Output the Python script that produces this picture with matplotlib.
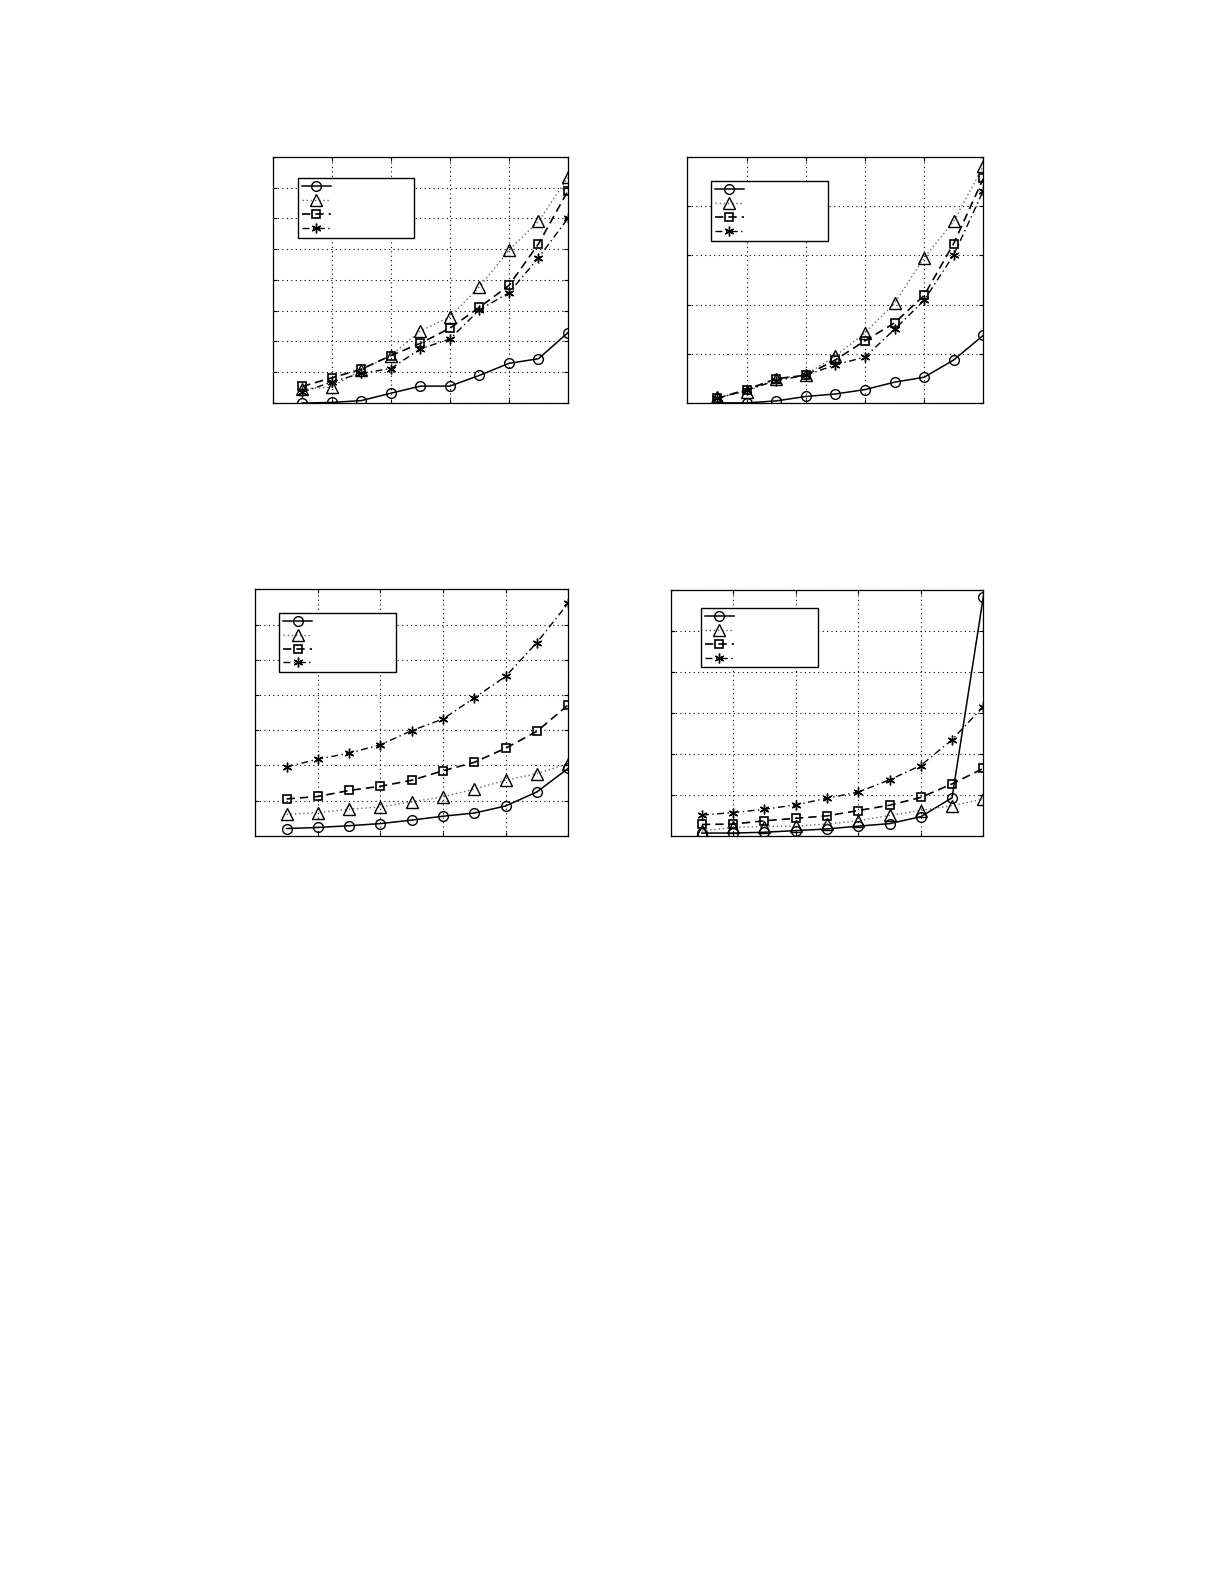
import matplotlib
matplotlib.use("Agg")
import matplotlib.pyplot as plt

# ---- data (arbitrary units) ----
x = [1, 2, 3, 4, 5, 6, 7, 8, 9, 10]

# panel 1 (top left), y range 0..8
p1_circle = [0.0, 0.02, 0.08, 0.32, 0.55, 0.55, 0.90, 1.29, 1.44, 2.29]
p1_triangle = [0.46, 0.52, 1.08, 1.54, 2.34, 2.80, 3.77, 4.97, 5.90, 7.33]
p1_square = [0.54, 0.82, 1.10, 1.54, 1.94, 2.43, 3.11, 3.82, 5.17, 6.90]
p1_star = [0.36, 0.68, 0.97, 1.12, 1.76, 2.08, 3.03, 3.58, 4.72, 6.00]

# panel 2 (top right), y range 0..5
p2_circle = [0.01, 0.01, 0.05, 0.14, 0.19, 0.28, 0.43, 0.53, 0.88, 1.38]
p2_triangle = [0.12, 0.24, 0.50, 0.58, 0.96, 1.43, 2.03, 2.95, 3.69, 4.81]
p2_square = [0.10, 0.28, 0.50, 0.57, 0.88, 1.27, 1.63, 2.19, 3.24, 4.56]
p2_star = [0.10, 0.27, 0.46, 0.57, 0.78, 0.94, 1.50, 2.09, 3.01, 4.31]

# panel 3 (bottom left), y range 0..7
p3_circle = [0.21, 0.24, 0.29, 0.35, 0.45, 0.56, 0.65, 0.85, 1.25, 1.92]
p3_triangle = [0.61, 0.66, 0.76, 0.82, 0.97, 1.11, 1.33, 1.58, 1.77, 2.05]
p3_square = [1.05, 1.12, 1.29, 1.41, 1.58, 1.85, 2.09, 2.49, 2.97, 3.72]
p3_star = [1.96, 2.18, 2.35, 2.59, 2.99, 3.32, 3.92, 4.53, 5.49, 6.61]

# panel 4 (bottom right), y range 0..6
p4_circle = [0.07, 0.07, 0.09, 0.13, 0.17, 0.24, 0.30, 0.47, 0.93, 5.84]
p4_triangle = [0.12, 0.21, 0.23, 0.24, 0.29, 0.37, 0.50, 0.62, 0.74, 0.90]
p4_square = [0.28, 0.29, 0.37, 0.43, 0.49, 0.62, 0.75, 0.94, 1.27, 1.65]
p4_star = [0.51, 0.57, 0.65, 0.76, 0.92, 1.07, 1.37, 1.72, 2.35, 3.16]

x_ticks = [0, 2, 4, 6, 8, 10]

panels = [
    dict(rect=[0.2226, 0.7457, 0.2411, 0.1554], ymax=8,
         series=[p1_circle, p1_triangle, p1_square, p1_star],
         leg=(0.085, 0.913, 0.393)),
    dict(rect=[0.5611, 0.7455, 0.2416, 0.1556], ymax=5,
         series=[p2_circle, p2_triangle, p2_square, p2_star],
         leg=(0.080, 0.900, 0.396)),
    dict(rect=[0.2084, 0.4726, 0.2555, 0.1556], ymax=7,
         series=[p3_circle, p3_triangle, p3_square, p3_star],
         leg=(0.077, 0.905, 0.372)),
    dict(rect=[0.5475, 0.4726, 0.2552, 0.1550], ymax=6,
         series=[p4_circle, p4_triangle, p4_square, p4_star],
         leg=(0.097, 0.928, 0.375)),
]

styles = [
    dict(marker='o', linestyle='-', color='black', linewidth=1.1),
    dict(marker='^', linestyle=(0, (1, 2)), color='0.4', linewidth=1.0),
    dict(marker='s', linestyle=(0, (5, 3)), color='black', linewidth=1.2),
    dict(marker=(6, 2, 0), linestyle=(0, (5, 2.5, 1, 2.5)), color='black', linewidth=1.0),
]
msizes = [7, 8, 6, 7]
mews = [1.0, 1.0, 1.2, 1.0]

fig = plt.figure(figsize=(12.25, 15.85), dpi=100)

for p in panels:
    ax = fig.add_axes(p['rect'])
    handles = []
    for s, ys, ms, mew in zip(styles, p['series'], msizes, mews):
        h, = ax.plot(x, ys, markersize=ms, markerfacecolor='none',
                     markeredgecolor='black', markeredgewidth=mew,
                     **s)
        handles.append(h)
    ax.set_xlim(0, 10)
    ax.set_ylim(0, p['ymax'])
    ax.set_xticks(x_ticks)
    ax.set_yticks(range(0, p['ymax'] + 1))
    ax.set_xticklabels([])
    ax.set_yticklabels([])
    ax.tick_params(direction='in', length=3, width=0.8, top=True, right=True)
    ax.grid(True, linestyle=(0, (1, 3)), color='black', linewidth=0.8)
    for sp in ax.spines.values():
        sp.set_linewidth(0.9)
    lx, ly, lw = p['leg']
    leg = ax.legend(handles, ['', '', '', ''], loc='upper left',
                    bbox_to_anchor=(lx, ly - 0.3, lw, 0.3), mode='expand',
                    borderaxespad=0.0, numpoints=1, fontsize=8,
                    handlelength=2.6, handletextpad=0.5, labelspacing=0.35,
                    borderpad=0.35, fancybox=False, framealpha=1.0,
                    edgecolor='black')
    leg.get_frame().set_linewidth(1.0)

fig.savefig('out.png', dpi=100)
